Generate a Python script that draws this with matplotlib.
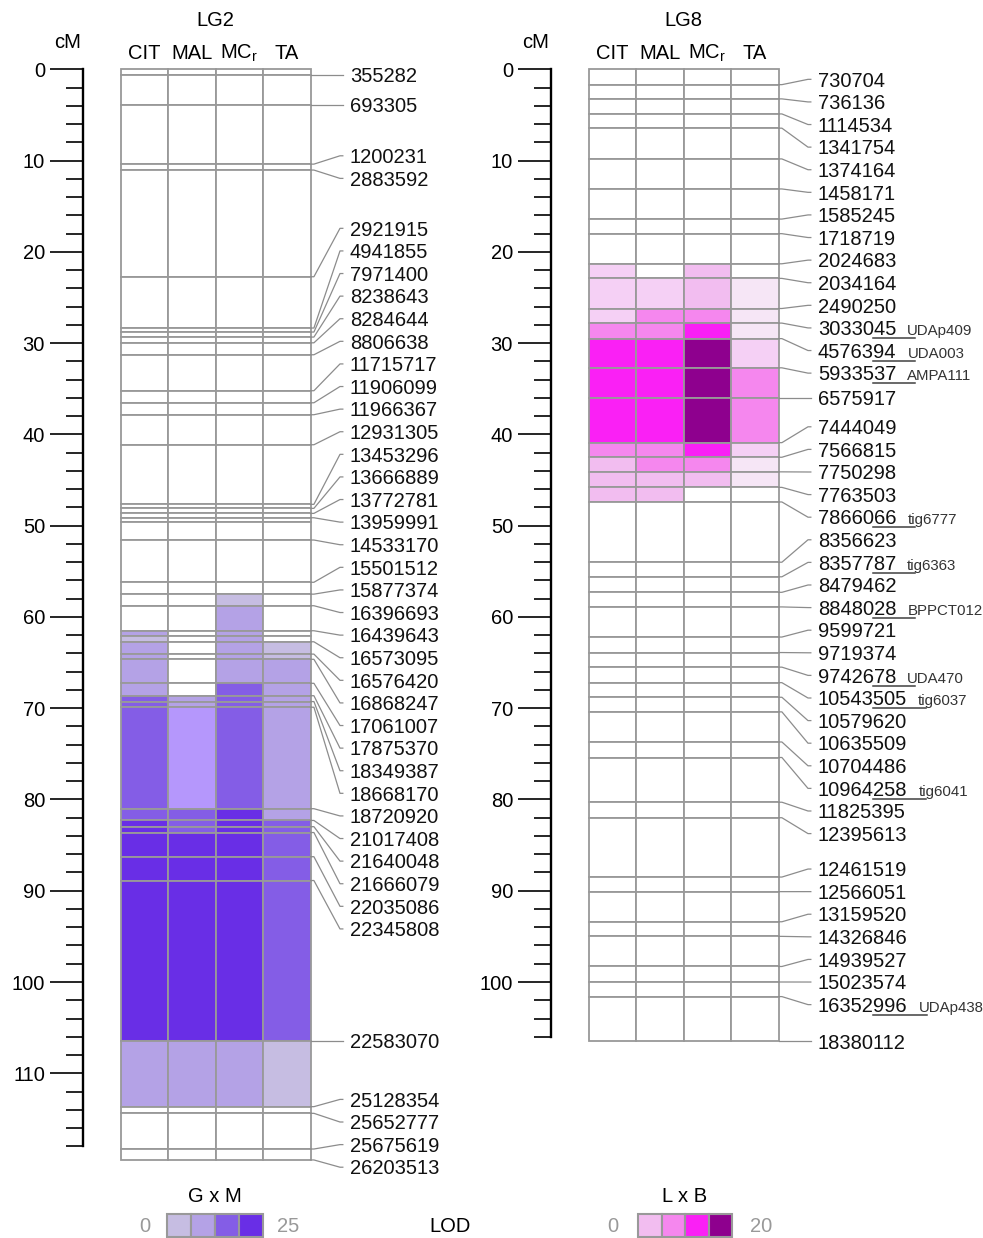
import numpy as np
import matplotlib.pyplot as plt
from matplotlib.ticker import FixedLocator

plt.rcParams['font.family'] = ['Liberation Sans', 'DejaVu Sans']
plt.rcParams['mathtext.default'] = 'regular'

columns = ['CIT', 'MAL', 'MC$_r$', 'TA']

# ---- LG2 (G x M) : marker positions (cM); '' = unlabelled interval boundary
lg2_markers = ['355282', '693305', '1200231', '2883592', '2921915', '4941855',
               '7971400', '8238643', '8284644', '8806638', '11715717', '11906099',
               '11966367', '12931305', '13453296', '13666889', '13772781', '13959991',
               '', '14533170', '15501512', '15877374', '16396693', '16439643', '',
               '16573095', '16576420', '16868247', '17061007', '17875370', '18349387',
               '18668170', '18720920', '21017408', '21640048', '21666079', '22035086',
               '22345808', '22583070', '25128354', '25652777', '25675619', '26203513']
lg2_cm = [0.59, 3.88, 10.38, 11.03, 22.72, 28.34, 28.78, 29.33, 29.96, 31.27,
          35.21, 36.53, 37.84, 41.13, 47.66, 48.10, 48.65, 49.13, 49.57, 51.57,
          56.20, 57.50, 58.77, 61.51, 62.06, 62.72, 64.07, 64.64, 67.27, 68.63,
          69.27, 69.89, 81.01, 82.30, 82.98, 83.62, 86.27, 88.88, 106.47, 113.66,
          114.39, 118.30, 119.50]
# LOD class of each interval (top -> bottom), one string per column
lg2_lod = ['0000000000' '0000000000' '00' '002122223333444442' '000',
           '0000000000' '0000000000' '00' '000000002253334442' '000',
           '0000000000' '0000000000' '00' '122222233334444442' '000',
           '0000000000' '0000000000' '00' '000011222222333331' '000']
gxm_colors = ['#ffffff', '#c6bde2', '#b4a2e6', '#845de6', '#692ee6', '#b597fc']
gxm_legend = [1, 2, 3, 4]

# ---- LG8 (L x B)
lg8_markers = ['730704', '736136', '1114534', '1341754', '1374164', '1458171',
               '1585245', '1718719', '2024683', '2034164', '2490250', '3033045',
               '4576394', '5933537', '6575917', '7444049', '7566815', '7750298',
               '7763503', '7866066', '8356623', '8357787', '8479462', '8848028',
               '9599721', '9719374', '9742678', '10543505', '10579620', '10635509',
               '10704486', '10964258', '11825395', '12395613', '12461519', '12566051',
               '13159520', '14326846', '14939527', '15023574', '16352996', '18380112']
lg8_cm = [1.67, 3.23, 4.88, 6.44, 9.81, 13.1, 16.4, 18.0, 21.3, 22.9,
          26.2, 27.8, 29.5, 32.7, 36.0, 40.9, 42.5, 44.1, 45.8, 47.4,
          54.0, 55.6, 57.3, 58.9, 62.2, 63.9, 65.5, 67.2, 68.8, 70.4,
          73.7, 75.4, 80.3, 82.0, 88.5, 90.1, 93.4, 95.0, 98.3, 100.0,
          101.6, 106.5]
lg8_names = {'3033045': 'UDAp409', '4576394': 'UDA003', '5933537': 'AMPA111',
             '7866066': 'tig6777', '8357787': 'tig6363', '8848028': 'BPPCT012',
             '9742678': 'UDA470', '10543505': 'tig6037', '10964258': 'tig6041',
             '16352996': 'UDAp438'}
lg8_lod = ['000000000' '22245554333' '0000000000' '0000000000' '00',
           '000000000' '02445554433' '0000000000' '0000000000' '00',
           '000000000' '33456665430' '0000000000' '0000000000' '00',
           '000000000' '01112442110' '0000000000' '0000000000' '00']
lxb_colors = ['#ffffff', '#f6e6f6', '#f5d0f5', '#f2bdf0', '#f587ee', '#fa20f5', '#8e008e']
lxb_legend = [3, 4, 5, 6]

# ---- layout (pixels of the 983 x 1238 canvas)
W, H = 983, 1238
COL = 47.4          # px per column
CM = 9.126          # px per cM
Y0 = 69.4           # px of 0 cM
GAP = 22.6 / CM     # min label spacing in cM
GRID = '#999999'
LINK = '#8c8c8c'
FS = 14.5

fig = plt.figure(figsize=(W / 100, H / 100), dpi=100)


def spread(targets, gap):
    # least-squares spacing (pool adjacent violators) to find the label groups
    n = len(targets)
    z = [t - i * gap for i, t in enumerate(targets)]
    blocks = []
    for v in z:
        blocks.append([v, 1])
        while len(blocks) > 1 and blocks[-2][0] / blocks[-2][1] > blocks[-1][0] / blocks[-1][1]:
            s, c = blocks.pop()
            blocks[-1][0] += s
            blocks[-1][1] += c
    q = []
    for s, c in blocks:
        q += [s / c] * c
    p = [v + i * gap for i, v in enumerate(q)]
    groups = [[0, 0]]
    for i in range(1, n):
        if p[i] - p[i - 1] <= gap + 1e-6:
            groups[-1][1] = i
        else:
            groups.append([i, i])

    # each group is centred on the midpoint of its first and last marker
    def place(g):
        s, e = g
        mid = (targets[s] + targets[e]) / 2
        return [mid + (k - (e - s) / 2) * gap for k in range(e - s + 1)]

    merged = True
    while merged:
        merged = False
        for k in range(len(groups) - 1):
            if place(groups[k])[-1] + gap > place(groups[k + 1])[0] + 1e-6:
                groups[k] = [groups[k][0], groups[k + 1][1]]
                del groups[k + 1]
                merged = True
                break
    out = []
    for g in groups:
        out += place(g)
    return out


def draw_group(left, right, box_left, title, markers, cm, lod, palette, ruler_end, names=None):
    ax = fig.add_axes([left / W, 0, (right - left) / W, 1])
    ax.patch.set_visible(False)
    ax.set_xlim(-(box_left - left) / COL, (right - box_left) / COL)
    ax.set_ylim((H - Y0) / CM, -Y0 / CM)

    bounds = np.array([0] + cm)
    for j in range(4):
        levels = [int(c) for c in lod[j]]
        ax.bar(j + 0.5, np.diff(bounds), bottom=bounds[:-1], width=1,
               color=[palette[k] for k in levels], edgecolor=GRID, linewidth=1.3)

    # cM ruler
    for s in ['top', 'right', 'bottom']:
        ax.spines[s].set_visible(False)
    ax.spines['left'].set_position(('data', -0.8))
    ax.spines['left'].set_bounds(0, ruler_end)
    ax.spines['left'].set_linewidth(1.7)
    ax.yaxis.set_major_locator(FixedLocator(np.arange(0, ruler_end, 10)))
    ax.yaxis.set_minor_locator(FixedLocator(np.arange(0, ruler_end + 1, 2)))
    ax.tick_params(axis='y', which='major', length=23.8, width=1.2, pad=3.6, labelsize=FS)
    ax.tick_params(axis='y', which='minor', length=12.2, width=1.2)
    ax.set_xticks([])

    ax.text(2, -5.4, title, ha='center', va='center', fontsize=FS)
    ax.text(-1.12, -3.0, 'cM', ha='center', va='center', fontsize=FS)
    for j, c in enumerate(columns):
        ax.text(j + 0.5, -1.79, c, ha='center', va='center', fontsize=FS)

    idx = [i for i, m in enumerate(markers) if m]
    pos = spread([cm[i] for i in idx], GAP)
    base = 7.2 / CM
    texts = []
    for i, p in zip(idx, pos):
        ax.plot([4, 4.07, 4.62, 4.68], [cm[i], cm[i], p, p], color=LINK, lw=0.9)
        t = ax.text(4.83, p + base, markers[i], ha='left', va='baseline', fontsize=FS,
                    color='#111111')
        texts.append((t, markers[i], p))

    if names:
        fig.canvas.draw()
        r = fig.canvas.get_renderer()
        inv = ax.transData.inverted()
        for t, m, p in texts:
            if m not in names:
                continue
            bb = t.get_window_extent(r)
            x1 = inv.transform((bb.x1, bb.y0))[0]
            ax.plot([4.83 + 55 / COL, x1 + 19 / COL], [p + base + 3 / CM] * 2,
                    color='#404040', lw=1.1)
            ax.text(x1 + 11 / COL, p + base, names[m], ha='left', va='baseline',
                    fontsize=10.8, color='#333333')
    return ax


draw_group(0, 480, 121, 'LG2', lg2_markers, lg2_cm, lg2_lod, gxm_colors, 118)
draw_group(480, W, 589, 'LG8', lg8_markers, lg8_cm, lg8_lod, lxb_colors, 106, lg8_names)


def legend(x0, x1, title, colors, levels, lo, hi, xlo, xhi):
    lax = fig.add_axes([x0 / W, 1 / H, (x1 - x0) / W, 23 / H])
    lax.bar(range(4), 1, width=1, color=[colors[k] for k in levels],
            edgecolor=GRID, linewidth=1.5, clip_on=False)
    lax.set_xlim(-0.5, 3.5)
    lax.set_ylim(0, 1)
    lax.axis('off')
    fig.text((x0 + x1) / 2 / W, 1 - 1196 / H, title, ha='center', va='center', fontsize=FS)
    fig.text(xlo / W, 1 - 1226 / H, lo, ha='center', va='center', fontsize=FS, color='#999999')
    fig.text(xhi / W, 1 - 1226 / H, hi, ha='center', va='center', fontsize=FS, color='#999999')


legend(167, 263, 'G x M', gxm_colors, gxm_legend, '0', '25', 145, 288)
legend(638, 732, 'L x B', lxb_colors, lxb_legend, '0', '20', 613, 761)
fig.text(450 / W, 1 - 1226 / H, 'LOD', ha='center', va='center', fontsize=FS)

fig.savefig('out.png', dpi=100)
